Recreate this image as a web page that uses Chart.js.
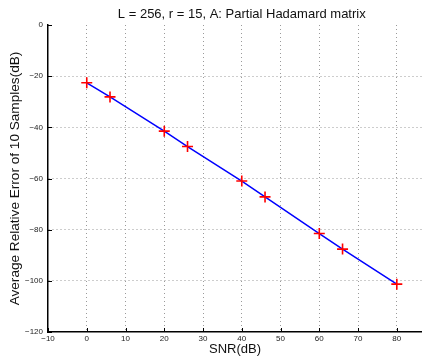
<!DOCTYPE html>
<html>
<head>
<meta charset="utf-8">
<script src="https://cdn.jsdelivr.net/npm/chart.js@4"></script>
<style>
  html, body { margin: 0; padding: 0; background: #fff; }
  #wrap { width: 422px; height: 357px; }
</style>
</head>
<body>
<div id="wrap"><canvas id="chart"></canvas></div>
<script>
// Data
const snrValues = [0, 6, 20, 26, 40, 46, 60, 66, 80];
const errorValues = [-22.6, -28.1, -41.5, -47.5, -61.0, -67.2, -81.5, -87.6, -101.3];
const xTicks = [-10, 0, 10, 20, 30, 40, 50, 60, 70, 80];
const yTicks = [0, -20, -40, -60, -80, -100, -120];
const chartTitle = 'L = 256, r = 15, A: Partial Hadamard matrix';

const font = "'Liberation Sans', Arial, Helvetica, sans-serif";
const minus = v => String(v).replace('-', '\u2212');
const gridColor = '#9a9a9a';

const points = snrValues.map((x, i) => ({ x: x, y: errorValues[i] }));

// title centred over the axes (Matlab style) + small inward tick marks
const matlabBits = {
    id: 'matlabBits',
    afterDraw(chart) {
        const { ctx, chartArea, scales } = chart;
        ctx.save();
        ctx.strokeStyle = '#000';
        ctx.lineWidth = 1;
        ctx.beginPath();
        scales.x.ticks.forEach(t => {
            const px = Math.round(scales.x.getPixelForValue(t.value)) + 0.5;
            ctx.moveTo(px, chartArea.bottom);
            ctx.lineTo(px, chartArea.bottom - 4);
        });
        scales.y.ticks.forEach(t => {
            const py = Math.round(scales.y.getPixelForValue(t.value)) + 0.5;
            ctx.moveTo(chartArea.left, py);
            ctx.lineTo(chartArea.left + 4, py);
        });
        ctx.stroke();

        ctx.fillStyle = '#111';
        ctx.font = '13px ' + font;
        ctx.textAlign = 'center';
        ctx.textBaseline = 'middle';
        const xl = scales.x.getPixelForValue(-10);
        const xr = scales.x.getPixelForValue(90);
        ctx.fillText(chartTitle, (xl + xr) / 2, 14);
        ctx.restore();
    }
};

new Chart(document.getElementById('chart').getContext('2d'), {
    type: 'scatter',
    data: {
        datasets: [
            {
                // blue line
                data: points,
                showLine: true,
                borderColor: '#0000ff',
                borderWidth: 1.5,
                pointRadius: 0,
                order: 2
            },
            {
                // red plus markers
                data: points,
                showLine: false,
                pointStyle: 'cross',
                pointRadius: 5.5,
                borderColor: '#ff0000',
                borderWidth: 1.6,
                order: 1
            }
        ]
    },
    plugins: [matlabBits],
    options: {
        animation: false,
        responsive: true,
        maintainAspectRatio: false,
        layout: { autoPadding: false, padding: { left: 0, right: 0, top: 25, bottom: 0 } },
        scales: {
            x: {
                type: 'linear',
                min: -10,
                max: 86.5,
                afterBuildTicks: scale => { scale.ticks = xTicks.map(v => ({ value: v })); },
                afterFit: scale => {
                    scale.height = 25;
                    scale.paddingLeft = 0;
                    scale.paddingRight = 0;
                },
                grid: {
                    color: ctx => (ctx.tick && ctx.tick.value === -10) ? 'rgba(0,0,0,0)' : gridColor,
                    lineWidth: 1,
                    drawTicks: false
                },
                border: { display: true, color: '#000', width: 1.5, dash: [1, 3] },
                ticks: {
                    color: '#222',
                    font: { family: font, size: 8 },
                    padding: 2,
                    maxRotation: 0,
                    callback: v => minus(v)
                },
                title: {
                    display: true,
                    text: 'SNR(dB)',
                    color: '#111',
                    font: { family: font, size: 13 },
                    padding: { top: 0, bottom: 0 }
                }
            },
            y: {
                type: 'linear',
                min: -120,
                max: 0,
                afterBuildTicks: scale => { scale.ticks = yTicks.map(v => ({ value: v })); },
                afterFit: scale => {
                    scale.width = 48;
                    scale.paddingTop = 0;
                    scale.paddingBottom = 0;
                },
                grid: {
                    color: ctx => (ctx.tick && (ctx.tick.value === -120 || ctx.tick.value === 0)) ? 'rgba(0,0,0,0)' : gridColor,
                    lineWidth: 1,
                    drawTicks: false
                },
                border: { display: true, color: '#000', width: 1.5, dash: [1, 3] },
                ticks: {
                    color: '#222',
                    font: { family: font, size: 8 },
                    padding: 5,
                    callback: v => minus(v)
                },
                title: {
                    display: true,
                    text: 'Average Relative Error of 10 Samples(dB)',
                    color: '#111',
                    font: { family: font, size: 13.6 },
                    padding: { top: 7, bottom: 0 }
                }
            }
        },
        plugins: {
            legend: { display: false },
            tooltip: { enabled: false },
            title: { display: false }
        }
    }
});
</script>
</body>
</html>
